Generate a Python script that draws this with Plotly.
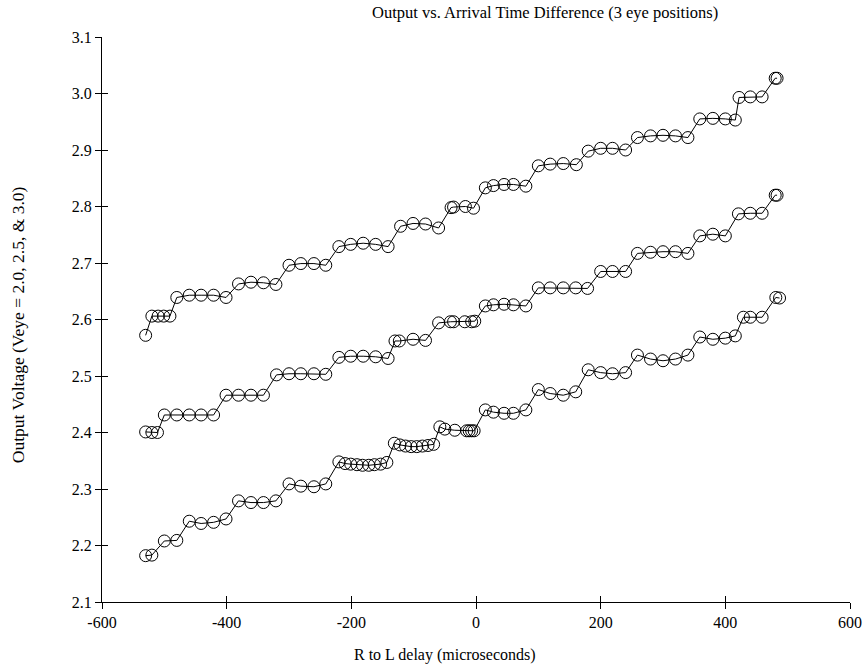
import plotly.graph_objects as go

# ---- data ----
x_upper = [-530, -520, -510, -501, -491, -480, -460, -441, -421, -401,
           -381, -361, -341, -321, -300, -281, -260, -241, -220, -201,
           -181, -161, -141, -121, -101, -81, -60, -40, -36, -17,
           -4, 15, 28, 45, 60, 80, 100, 119, 140, 161,
           180, 200, 219, 240, 259, 280, 300, 320, 340, 359,
           380, 400, 416, 422, 440, 459, 480, 483]
y_upper = [2.572, 2.606, 2.606, 2.606, 2.606, 2.639, 2.643, 2.643, 2.643, 2.639,
           2.663, 2.666, 2.665, 2.662, 2.696, 2.699, 2.699, 2.696, 2.729, 2.733,
           2.735, 2.733, 2.729, 2.765, 2.770, 2.769, 2.762, 2.798, 2.799, 2.800,
           2.797, 2.833, 2.837, 2.839, 2.839, 2.836, 2.872, 2.875, 2.876, 2.874,
           2.898, 2.903, 2.903, 2.900, 2.922, 2.925, 2.926, 2.925, 2.922, 2.955,
           2.956, 2.955, 2.953, 2.993, 2.994, 2.994, 3.027, 3.027]

x_middle = [-530, -520, -511, -500, -480, -460, -441, -421, -401, -381,
            -361, -341, -320, -300, -281, -260, -241, -220, -201, -181,
            -161, -141, -130, -123, -101, -81, -60, -41, -36, -18,
            -7, -2, 15, 28, 45, 60, 80, 100, 119, 140,
            160, 179, 200, 219, 240, 259, 280, 300, 320, 340,
            359, 380, 400, 421, 440, 459, 480, 483]
y_middle = [2.401, 2.400, 2.400, 2.431, 2.431, 2.431, 2.431, 2.431, 2.466, 2.466,
            2.466, 2.466, 2.502, 2.504, 2.504, 2.504, 2.503, 2.533, 2.535, 2.535,
            2.534, 2.531, 2.562, 2.562, 2.565, 2.563, 2.594, 2.596, 2.596, 2.596,
            2.596, 2.597, 2.624, 2.626, 2.627, 2.626, 2.624, 2.656, 2.656, 2.656,
            2.656, 2.655, 2.685, 2.685, 2.685, 2.717, 2.719, 2.720, 2.720, 2.717,
            2.748, 2.751, 2.748, 2.787, 2.788, 2.788, 2.820, 2.820]

x_lower = [-530, -520, -500, -480, -460, -441, -421, -401, -381, -361,
           -341, -321, -300, -281, -260, -241, -220, -210, -201, -191,
           -182, -172, -163, -153, -143, -131, -122, -113, -104, -95,
           -86, -77, -68, -58, -50, -34, -15, -11, -7, -3,
           15, 28, 45, 60, 80, 100, 119, 140, 160, 180,
           200, 219, 240, 259, 280, 300, 320, 340, 359, 380,
           400, 416, 429, 440, 459, 481, 487]
y_lower = [2.182, 2.183, 2.208, 2.209, 2.243, 2.239, 2.241, 2.247, 2.279, 2.276,
           2.276, 2.279, 2.309, 2.305, 2.304, 2.309, 2.348, 2.345, 2.344, 2.343,
           2.342, 2.342, 2.343, 2.344, 2.347, 2.381, 2.378, 2.376, 2.375, 2.375,
           2.376, 2.377, 2.379, 2.410, 2.406, 2.404, 2.403, 2.403, 2.403, 2.403,
           2.440, 2.436, 2.434, 2.434, 2.440, 2.476, 2.469, 2.466, 2.472, 2.511,
           2.506, 2.504, 2.506, 2.537, 2.530, 2.527, 2.530, 2.537, 2.569, 2.565,
           2.567, 2.571, 2.604, 2.604, 2.604, 2.639, 2.638]

x_ticks = [-600, -400, -200, 0, 200, 400, 600]
x_tick_text = ["-600", "-400", "-200", "0", "200", "400", "600"]
y_ticks = [2.1, 2.2, 2.3, 2.4, 2.5, 2.6, 2.7, 2.8, 2.9, 3.0, 3.1]
y_tick_text = ["2.1", "2.2", "2.3", "2.4", "2.5", "2.6", "2.7", "2.8", "2.9", "3.0", "3.1"]

title_text = "Output vs. Arrival Time Difference (3 eye positions)"
x_title = "R to L delay (microseconds)"
y_title = "Output Voltage (Veye = 2.0, 2.5, &amp; 3.0)"

FONT = "Liberation Serif, Times New Roman, serif"

fig = go.Figure()
marker = dict(symbol="circle-open", size=12, color="black", line=dict(width=1, color="black"))
line = dict(color="black", width=1)

fig.add_trace(go.Scatter(x=x_upper, y=y_upper, mode="lines+markers",
                         marker=marker, line=line, showlegend=False))
fig.add_trace(go.Scatter(x=x_middle, y=y_middle, mode="lines+markers",
                         marker=marker, line=line, showlegend=False))
fig.add_trace(go.Scatter(x=x_lower, y=y_lower, mode="lines+markers",
                         marker=marker, line=line, showlegend=False,
                         xaxis="x2", yaxis="y2"))

axis_common = dict(showgrid=False, zeroline=False, ticklen=6, tickwidth=1, automargin=False,
                   tickcolor="black", tickfont=dict(family=FONT, size=16, color="black"))

fig.update_layout(
    width=865, height=664,
    margin=dict(l=102, r=15, t=37, b=62, autoexpand=False),
    paper_bgcolor="white", plot_bgcolor="white",
    font=dict(family=FONT, color="black"),
    xaxis=dict(range=[-600, 600], tickvals=x_ticks, ticktext=x_tick_text, ticks="outside",
               showline=True, linecolor="black", linewidth=1, **axis_common),
    yaxis=dict(range=[2.1, 3.1], tickvals=y_ticks, ticktext=y_tick_text, ticks="outside",
               showline=True, linecolor="black", linewidth=1, **axis_common),
    xaxis2=dict(range=[-600, 600], tickvals=x_ticks, ticks="inside", overlaying="x",
                matches="x", anchor="y2", showticklabels=False, showline=False, **axis_common),
    yaxis2=dict(range=[2.1, 3.1], tickvals=y_ticks, ticks="inside", overlaying="y",
                matches="y", anchor="x2", showticklabels=False, showline=False, **axis_common),
    annotations=[
        dict(text=title_text, xref="paper", yref="paper", x=0.592, y=1.0, yshift=25,
             xanchor="center", yanchor="middle", showarrow=False,
             font=dict(family=FONT, size=16.5, color="black")),
        dict(text=x_title, xref="paper", yref="paper", x=0.459, y=0, yshift=-53,
             xanchor="center", yanchor="middle", showarrow=False,
             font=dict(family=FONT, size=16, color="black")),
        dict(text=y_title, xref="paper", yref="paper", x=0, xshift=-84, y=0.49,
             xanchor="center", yanchor="middle", showarrow=False, textangle=-90,
             font=dict(family=FONT, size=17.5, color="black")),
    ],
)

fig.write_html("out.html")
